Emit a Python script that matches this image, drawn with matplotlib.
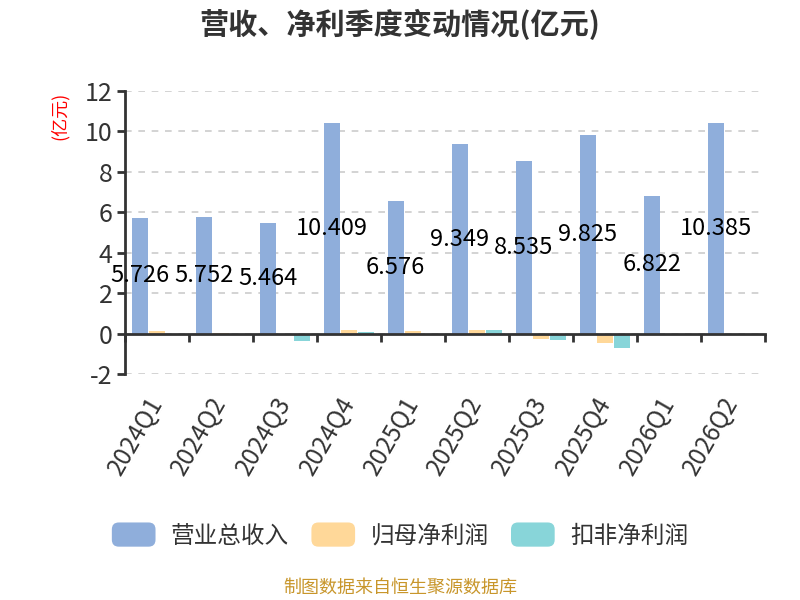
import numpy as np
import matplotlib
matplotlib.use('Agg')
import matplotlib.pyplot as plt
from matplotlib.patches import FancyBboxPatch
from matplotlib.legend_handler import HandlerPatch

plt.rcParams['font.family'] = ['Noto Sans CJK SC', 'DejaVu Sans']
plt.rcParams['axes.unicode_minus'] = False

# data (亿元)
quarters = ['2024Q1', '2024Q2', '2024Q3', '2024Q4', '2025Q1',
            '2025Q2', '2025Q3', '2025Q4', '2026Q1', '2026Q2']
revenue = [5.726, 5.752, 5.464, 10.409, 6.576, 9.349, 8.535, 9.825, 6.822, 10.385]
net_profit = [0.12, 0.03, -0.07, 0.19, 0.12, 0.19, -0.25, -0.46, 0.01, 0.01]
deducted_profit = [-0.04, -0.04, -0.35, 0.10, -0.03, 0.17, -0.32, -0.69, 0.01, -0.02]

series_names = ['营业总收入', '归母净利润', '扣非净利润']
colors = ['#8FAEDB', '#FFD899', '#88D5D9']


class RoundHandler(HandlerPatch):
    def create_artists(self, legend, orig_handle, xdescent, ydescent,
                       width, height, fontsize, trans):
        p = FancyBboxPatch((-xdescent, -ydescent), width, height,
                           boxstyle='round,pad=0,rounding_size=5',
                           facecolor=orig_handle.get_facecolor(),
                           edgecolor='none', transform=trans)
        return [p]


fig = plt.figure(figsize=(8, 6), dpi=100)
ax = fig.add_axes([125 / 800, 1 - 374.3 / 600, 640 / 800, 283.6 / 600])

x = np.arange(len(quarters))
w = 0.25
gap = 0.02
handles = []
for i, (vals, c) in enumerate(zip([revenue, net_profit, deducted_profit], colors)):
    bars = ax.bar(x + (i - 1) * (w + gap), vals, w, color=c, zorder=3,
                  label=series_names[i])
    handles.append(bars[0])
    if i == 0:
        ax.bar_label(bars, labels=['%.3f' % v for v in vals], label_type='center',
                     fontsize=17, color='black', zorder=5)

ax.set_xlim(-0.5, len(quarters) - 0.5)
ax.set_ylim(-2, 12)
ax.set_yticks(np.arange(-2, 13, 2))
ax.grid(axis='y', color='#CCCCCC', linestyle=(0, (4, 4)), linewidth=1.2, zorder=0)

for s in ['top', 'right']:
    ax.spines[s].set_visible(False)
ax.spines['left'].set_color('#333333')
ax.spines['left'].set_linewidth(2)
ax.spines['bottom'].set_position(('data', 0))
ax.spines['bottom'].set_color('#333333')
ax.spines['bottom'].set_linewidth(2)
ax.spines['bottom'].set_zorder(4)

ax.tick_params(axis='y', length=6, width=2, color='#333333',
               labelsize=18, labelcolor='#333333', pad=3)
ax.set_xticks(x)
ax.set_xticklabels(quarters, rotation=60, ha='right', va='center',
                   rotation_mode='anchor')
ax.set_xticks(np.arange(-0.5, len(quarters)), minor=True)
ax.tick_params(axis='x', which='major', length=0, labelsize=17.5,
               labelcolor='#333333', pad=47)
ax.tick_params(axis='x', which='minor', length=6, width=2, color='#333333')

ax.set_ylabel('(亿元)', color='red', fontsize=13)
ax.yaxis.set_label_coords(-0.087, 0.91)

fig.suptitle('营收、净利季度变动情况(亿元)', fontsize=21, fontweight='bold',
             color='#333333', x=0.5, y=0.985)

fig.legend(handles=handles, labels=series_names, loc='center',
           bbox_to_anchor=(0.5, 1 - 535 / 600), ncol=3, frameon=False,
           fontsize=17, labelcolor='#333333', handlelength=1.85,
           handleheight=1.2, handletextpad=0.65, columnspacing=0.95,
           handler_map={h: RoundHandler() for h in handles})

fig.text(0.5, 1 - 588 / 600, '制图数据来自恒生聚源数据库', ha='center', va='center',
         fontsize=13, color='#C8962B')

fig.savefig('out.png', dpi=100)
